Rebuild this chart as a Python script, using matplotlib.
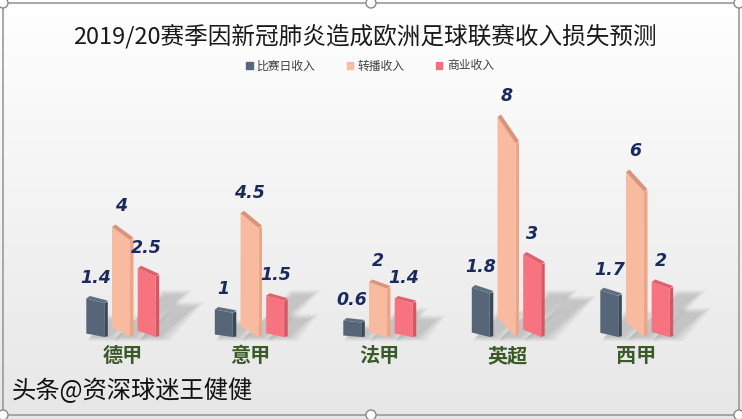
import matplotlib
matplotlib.use("Agg")
import matplotlib.pyplot as plt
import matplotlib.patches as mpatches
from matplotlib.patches import Polygon, FancyBboxPatch, Circle
import numpy as np

plt.rcParams['font.family'] = ['Noto Sans CJK SC', 'DejaVu Sans']

leagues = ['德甲', '意甲', '法甲', '英超', '西甲']
series_names = ['比赛日收入', '转播收入', '商业收入']
matchday = [1.4, 1.0, 0.6, 1.8, 1.7]
broadcast = [4.0, 4.5, 2.0, 8.0, 6.0]
commercial = [2.5, 1.5, 1.4, 3.0, 2.0]
title = '2019/20赛季因新冠肺炎造成欧洲足球联赛收入损失预测'
watermark = '头条@资深球迷王健健'

# front / side / top colours per series
front_cols = ['#566678', '#f9bb9f', '#f6737f']
side_cols = ['#3c4858', '#eda587', '#d85565']
top_cols = ['#5f6f80', '#d8957b', '#e0606e']
legend_cols = ['#56687c', '#fbbda0', '#f07080']

W, H = 742, 419
fig = plt.figure(figsize=(W / 100, H / 100), dpi=100)

# background gradient + border
bg = fig.add_axes([0, 0, 1, 1])
bg.set_xlim(0, W)
bg.set_ylim(H, 0)
bg.axis('off')
grad = np.linspace(1.0, 0.905, 256).reshape(-1, 1)
bg.imshow(np.dstack([grad, grad, grad]), extent=[0, W, H, 0], aspect='auto')
bg.add_patch(FancyBboxPatch((3, 3), W - 6, H - 7, boxstyle='round,pad=0,rounding_size=6',
                            fc='none', ec='#9a9a9a', lw=1.2))
for hx, hy in [(3, 3), (W - 3, 3), (3, H - 4), (W - 3, H - 4), (W / 2, 3), (W / 2, H - 4)]:
    bg.add_patch(Circle((hx, hy), 5, fc='white', ec='#8a8a8a', lw=1.0, zorder=5))

# main axes: data units, pixel calibrated
x_px0, x_scale = 121, 128.5   # px of group 0, px per group
y_base, y_scale = 82, 27.5    # baseline px from bottom, px per unit
ax = fig.add_axes([0, 0, 1, 1])
ax.set_xlim(-x_px0 / x_scale, (W - x_px0) / x_scale)
ax.set_ylim(-y_base / y_scale, (H - y_base) / y_scale)
ax.axis('off')
ax.patch.set_alpha(0)

px = 1 / x_scale
py = 1 / y_scale
fw = 18 * px       # front face width
sw = 3.5 * px      # side face width
tb = 2.5 * py      # top band thickness
offsets = [-0.2, 0.0, 0.2]

all_series = [matchday, broadcast, commercial]

# soft shadows first, going up and to the right from the base
for s, vals in enumerate(all_series):
    for i, v in enumerate(vals):
        xc = i + offsets[s]
        x0, x1 = xc - fw / 2, xc + fw / 2 + sw
        L = min(v, 3.5)
        dx, dy = 14 * px * L, 12 * py * L
        for k in range(8):
            g = k * 1.5
            ax.add_patch(Polygon([(x0 + 4 * px - g * px * 0.3, -g * py * 0.4),
                                  (x1 + g * px, -g * py * 0.4),
                                  (x1 + dx + g * px, dy + g * py * 0.5),
                                  (x0 + dx + 4 * px - g * px * 0.3, dy + g * py * 0.5)],
                                 closed=True, fc='#4a4a4a', ec='none', alpha=0.03, zorder=1))

for s, vals in enumerate(all_series):
    for i, v in enumerate(vals):
        xc = i + offsets[s]
        x0, x1 = xc - fw / 2, xc + fw / 2
        ts = 0.12 * v
        bs = 0.09 * v
        front = [(x0, bs), (x0, v), (x1, v - ts), (x1, 0)]
        side = [(x1, 0), (x1, v - ts), (x1 + sw, v - ts + tb * 0.6), (x1 + sw, bs * 0.2)]
        top = [(x0, v), (x0 + sw, v + tb), (x1 + sw, v - ts + tb), (x1, v - ts)]
        ax.add_patch(Polygon(side, closed=True, fc=side_cols[s], ec='none', zorder=3))
        ax.add_patch(Polygon(front, closed=True, fc=front_cols[s], ec='none', zorder=3))
        ax.add_patch(Polygon(top, closed=True, fc=top_cols[s], ec='none', zorder=3))
        ax.text(xc, v + 0.42, f'{v:g}', ha='center', va='bottom', fontsize=12.5,
                fontweight='bold', style='italic', color='#1b2a5c', family='DejaVu Sans', zorder=4)

for i, name in enumerate(leagues):
    ax.text(i + 0.01, -0.68, name, ha='center', va='center', fontsize=14.5,
            color='#3a5a28', fontweight='bold')

fig.text(365 / W, 1 - 36 / H, title, ha='center', va='center', fontsize=17, color='#1a1a1a')
fig.text(12 / W, 1 - 391 / H, watermark, ha='left', va='center', fontsize=17.5, color='#111111')

handles = [mpatches.Patch(color=c, label=n) for c, n in zip(legend_cols, series_names)]
fig.legend(handles=handles, loc='center', bbox_to_anchor=(370 / W, 1 - 66 / H), ncol=3,
           frameon=False, fontsize=8.5, handlelength=0.55, handleheight=0.55,
           handletextpad=0.4, columnspacing=2.6, labelcolor='#404040')

fig.savefig('out.png', dpi=100)
